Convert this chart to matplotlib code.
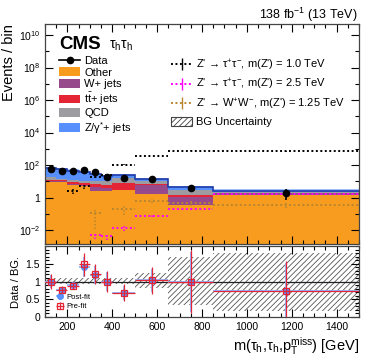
import numpy as np
import matplotlib
matplotlib.use('Agg')
import matplotlib.pyplot as plt
from matplotlib.ticker import FixedLocator, FuncFormatter, MultipleLocator, NullFormatter
from matplotlib.patches import Patch
from matplotlib.lines import Line2D

plt.rcParams['font.family'] = ['Liberation Sans', 'DejaVu Sans']
plt.rcParams['mathtext.fontset'] = 'custom'
plt.rcParams['mathtext.rm'] = 'Liberation Sans'
plt.rcParams['mathtext.it'] = 'Liberation Sans:italic'
plt.rcParams['mathtext.bf'] = 'Liberation Sans:bold'
plt.rcParams['hatch.linewidth'] = 0.6

# ---------------- data ----------------
edges = [100, 150, 200, 250, 300, 350, 400, 500, 650, 850, 1500]

data = [58, 45, 41, 52, 36, 19, 16, 13.6, 4.0, 2.0]
data_err_up = [8, 7, 6.5, 7.5, 6.5, 5, 4.5, 4, 1.6, 1.3]
data_err_dn = [7.5, 6.5, 6, 7, 6, 4.5, 4, 3.6, 1.6, 1.3]

bkg_other = [9.0, 9.5, 6.0, 5.3, 2.7, 2.7, 2.8, 1.6, 0.35, 1.5]
bkg_wjets = [1.0, 0.8, 1.2, 0.9, 1.8, 1.1, 0.3, 4.6, 0.75, 0.3]
bkg_ttbar = [2.0, 1.2, 2.1, 1.8, 2.5, 2.2, 4.9, 0.8, 0.4, 0.1]
bkg_qcd = [6.0, 2.5, 3.1, 3.0, 4.0, 5.0, 7.0, 3.5, 1.5, 0.2]
bkg_zjets = [44, 42, 33.6, 25, 18, 10, 8, 3.5, 1.2, 0.6]

sig_tt10 = [np.nan, np.nan, 2.4, 4.9, 18, 24, 108, 350, 780, 700]
sig_tt10_rel = [0, 0, 0.35, 0.3, 0.12, 0.1, 0.05, 0.03, 0.02, 0.02]
sig_tt25 = [np.nan, np.nan, np.nan, np.nan, 0.0047, 0.0042, 0.013, 0.072, 0.21, 1.6]
sig_tt25_rel = [0, 0, 0, 0, 0.4, 0.4, 0.3, 0.15, 0.1, 0.05]
sig_ww = [np.nan, np.nan, np.nan, np.nan, 0.11, np.nan, 0.2, 0.63, 0.5, 0.35]
sig_ww_rel = [0, 0, 0, 0, 0.9, 0, 0.6, 0.3, 0.35, 0.3]

ratio_post = [1.0, 0.75, 0.9, 1.42, 1.18, 1.0, 0.67, 1.03, 0.98, 0.72]
ratio_post_err = [0.18, 0.1, 0.09, 0.28, 0.25, 0.27, 0.2, 0.33, 0.85, 0.8]
ratio_pre = [1.0, 0.75, 0.88, 1.48, 1.2, 1.0, 0.68, 1.03, 1.0, 0.72]
ratio_pre_err = [0.21, 0.12, 0.1, 0.32, 0.28, 0.3, 0.24, 0.37, 0.9, 0.85]

unc_up = [1.11, 1.11, 1.11, 1.11, 1.11, 1.11, 1.11, 1.23, 1.69, 1.81]
unc_dn = [0.92, 0.92, 0.92, 0.92, 0.92, 0.92, 0.92, 0.83, 0.33, 0.17]

# ---------------- figure ----------------
edges_a = np.array(edges, float)
centers = 0.5 * (edges_a[:-1] + edges_a[1:])
halfw = 0.5 * np.diff(edges_a)

W, H = 374, 364
fig = plt.figure(figsize=(W / 100, H / 100), dpi=100)
ax = fig.add_axes([45 / W, 120 / H, 314 / W, 220 / H])
rax = fig.add_axes([45 / W, 47 / H, 314 / W, 71 / H])

comps = [bkg_other, bkg_wjets, bkg_ttbar, bkg_qcd, bkg_zjets]
colors = ['#f89c20', '#964a8b', '#e42536', '#9c9ca1', '#5790fc']
labels = ['Other', 'W+ jets', r't$\bar{\mathrm{t}}$+ jets', 'QCD', r'Z/γ$^{*}$+ jets']
bottom = np.full(len(centers), 1e-6)
for vals, c in zip(comps, colors):
    top = bottom + np.array(vals)
    ax.stairs(top, edges_a, baseline=bottom, fill=True, color=c, lw=0)
    bottom = top
total = bottom
ax.stairs(total * 1.18, edges_a, baseline=total, fill=True, color='#9ec0ff', lw=0)
ax.stairs(total, edges_a, baseline=None, color='#1f3ca8', lw=1.2)

sigs = [(sig_tt10, sig_tt10_rel, 'black'), (sig_tt25, sig_tt25_rel, '#ff00ff'),
        (sig_ww, sig_ww_rel, '#b8862e')]
for vals, rel, c in sigs:
    v = np.array(vals, float)
    r = np.array(rel, float)
    m = ~np.isnan(v)
    ax.hlines(v[m], edges_a[:-1][m], edges_a[1:][m], colors=c, linestyles=(0, (1, 1.3)), lw=1.4)
    eb = ax.errorbar(centers[m], v[m], yerr=v[m] * r[m], fmt='none', ecolor=c, elinewidth=1.1)
    eb[2][0].set_linestyle((0, (1, 1.3)))

ax.errorbar(centers, data, yerr=[data_err_dn, data_err_up], fmt='o', color='black',
            ms=4.5, elinewidth=1.2, capsize=0, zorder=5)

ax.set_xlim(100, 1500)
ax.set_yscale('log')
ax.set_ylim(1.4e-3, 4.8e10)
ax.yaxis.set_major_locator(FixedLocator([10.0 ** k for k in range(-2, 11, 2)]))
ax.yaxis.set_minor_locator(FixedLocator([10.0 ** k for k in range(-3, 11, 2)]))
ax.yaxis.set_major_formatter(FuncFormatter(lambda v, p: '1' if abs(v - 1) < 1e-9 else r'$10^{%d}$' % round(np.log10(v))))
ax.yaxis.set_minor_formatter(NullFormatter())
ax.xaxis.set_major_locator(MultipleLocator(200))
ax.xaxis.set_minor_locator(MultipleLocator(50))
ax.tick_params(axis='x', labelbottom=False)
for a in (ax, rax):
    a.tick_params(which='both', direction='in', top=True, right=True, labelsize=7.5)
    a.tick_params(which='major', length=6, width=0.8)
    a.tick_params(which='minor', length=3, width=0.8)
    for s in a.spines.values():
        s.set_linewidth(0.9)
        s.set_color('#444444')
ax.set_ylabel('Events / bin', fontsize=10.5, loc='top', labelpad=2)

# legends
h1 = [Line2D([], [], color='black', marker='o', ms=4.5, lw=1.2)] + \
     [Patch(facecolor=c, edgecolor='none') for c in colors]
l1 = ['Data'] + labels
leg1 = ax.legend(h1, l1, loc='upper left', bbox_to_anchor=(0.045, 0.855), frameon=False,
                 fontsize=8, handlelength=1.9, handleheight=0.8, labelspacing=0.13,
                 handletextpad=0.35, borderpad=0, borderaxespad=0)
ax.add_artist(leg1)
h2 = [Line2D([], [], color='black', ls=(0, (1, 1.3)), lw=1.4, marker='|', ms=8),
      Line2D([], [], color='#ff00ff', ls=(0, (1, 1.3)), lw=1.4, marker='|', ms=8),
      Line2D([], [], color='#b8862e', ls=(0, (1, 1.3)), lw=1.4, marker='|', ms=8),
      Patch(facecolor='white', edgecolor='#444444', hatch='//////', lw=0.8)]
l2 = [r"Z' → τ$^{+}$τ$^{-}$, m(Z') = 1.0 TeV", r"Z' → τ$^{+}$τ$^{-}$, m(Z') = 2.5 TeV",
      r"Z' → W$^{+}$W$^{-}$, m(Z') = 1.25 TeV", 'BG Uncertainty']
ax.legend(h2, l2, loc='upper left', bbox_to_anchor=(0.402, 0.848), frameon=False,
          fontsize=8, handlelength=1.9, handleheight=1.0, labelspacing=0.4,
          handletextpad=0.35, borderpad=0, borderaxespad=0)

ax.text(0.046, 0.945, 'CMS', transform=ax.transAxes, fontsize=13.5, fontweight='bold',
        va='top', ha='left')
ax.text(0.205, 0.935, r'τ$_\mathrm{h}$τ$_\mathrm{h}$', transform=ax.transAxes, fontsize=10,
        va='top', ha='left')
fig.text(358 / W, 1 - 19 / H, r'138 fb$^{-1}$ (13 TeV)', fontsize=9, ha='right', va='baseline')

# ratio panel
rax.stairs(unc_up, edges_a, baseline=unc_dn, fill=True, facecolor='none',
           edgecolor='#555555', hatch='//////', lw=0)
rax.axhline(1.0, color='#222222', lw=0.9)
rax.errorbar(centers, ratio_post, xerr=halfw, yerr=ratio_post_err, fmt='o', color='#5790fc',
             ecolor='#8db5ff', ms=4, elinewidth=1.3, capsize=0, label='Post-fit', zorder=4)
rax.errorbar(centers, ratio_pre, xerr=halfw, yerr=ratio_pre_err, fmt='s', mfc='none',
             mec='#e42536', ecolor='#e42536', ms=4.5, mew=0.9, elinewidth=0.9, capsize=0,
             label='Pre-fit', zorder=5)
rax.set_xlim(100, 1500)
rax.set_ylim(0, 2.0)
rax.yaxis.set_major_locator(FixedLocator([0, 0.5, 1.0, 1.5]))
rax.yaxis.set_minor_locator(MultipleLocator(0.1))
rax.yaxis.set_major_formatter(FuncFormatter(lambda v, p: '%g' % v))
rax.xaxis.set_major_locator(MultipleLocator(200))
rax.xaxis.set_minor_locator(MultipleLocator(50))
rax.set_ylabel('Data / BG.', fontsize=8, labelpad=3)
rax.set_xlabel(r'm(τ$_\mathrm{h}$,τ$_\mathrm{h}$,p$_\mathrm{T}^\mathrm{miss}$) [GeV]',
               fontsize=10.5, loc='right', labelpad=2)
rax.legend(loc='lower left', bbox_to_anchor=(0.02, 0.04), frameon=False, fontsize=5.5,
           handlelength=1.2, handletextpad=0.3, labelspacing=0.3, borderpad=0)

fig.savefig('out.png', dpi=100)
